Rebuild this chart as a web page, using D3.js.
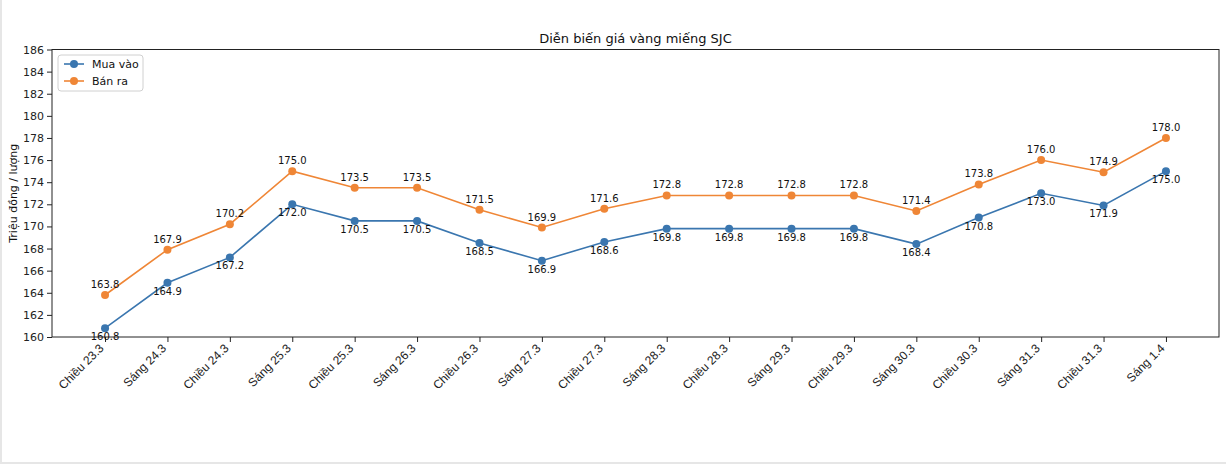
<!DOCTYPE html>
<html>
<head>
<meta charset="utf-8">
<script src="https://cdn.jsdelivr.net/npm/d3@7"></script>
<style>
  body { margin: 0; background: #fff; }
  svg { font-family: "DejaVu Sans", sans-serif; }
  .frame { position: absolute; left: 0; top: 0; width: 1224px; height: 462px; border-left: 2px solid #e6e6e6; border-bottom: 2px solid #e6e6e6; pointer-events: none; }
</style>
</head>
<body>
<div class="frame"></div>
<svg width="1226" height="464"></svg>
<script>
var labels = ["Chiều 23.3", "Sáng 24.3", "Chiều 24.3", "Sáng 25.3", "Chiều 25.3", "Sáng 26.3",
  "Chiều 26.3", "Sáng 27.3", "Chiều 27.3", "Sáng 28.3", "Chiều 28.3", "Sáng 29.3",
  "Chiều 29.3", "Sáng 30.3", "Chiều 30.3", "Sáng 31.3", "Chiều 31.3", "Sáng 1.4"];
var muaVao = [160.8, 164.9, 167.2, 172.0, 170.5, 170.5, 168.5, 166.9, 168.6, 169.8, 169.8, 169.8, 169.8, 168.4, 170.8, 173.0, 171.9, 175.0];
var banRa = [163.8, 167.9, 170.2, 175.0, 173.5, 173.5, 171.5, 169.9, 171.6, 172.8, 172.8, 172.8, 172.8, 171.4, 173.8, 176.0, 174.9, 178.0];
var yTicks = [160, 162, 164, 166, 168, 170, 172, 174, 176, 178, 180, 182, 184, 186];

var mLeft = 52, mRight = 1219, mTop = 49.5, mBottom = 337;
var svg = d3.select("svg");

// matplotlib style 5% margins on x
var n = labels.length;
var x = d3.scaleLinear().domain([-0.05 * (n - 1), (n - 1) * 1.05]).range([mLeft, mRight]);
var y = d3.scaleLinear().domain([160, 186]).range([mBottom, mTop]);

var series = [
  {name: "Mua vào", values: muaVao, color: "#3a76af", dy: 12},
  {name: "Bán ra", values: banRa, color: "#ef8636", dy: -7}
];

// axes
var xAxis = svg.append("g").attr("transform", "translate(0," + mBottom + ")")
  .call(d3.axisBottom(x).tickValues(d3.range(n)).tickFormat("").tickSizeOuter(0).tickSize(5));
xAxis.select(".domain").remove();
xAxis.selectAll("line").attr("stroke", "#222");

xAxis.selectAll(".tick").append("text")
  .attr("fill", "#222")
  .attr("font-size", 12)
  .attr("text-anchor", "end")
  .attr("transform", "translate(-1,12) rotate(-45)")
  .text(function(d) { return labels[d]; });

var yAxis = svg.append("g").attr("transform", "translate(" + mLeft + ",0)")
  .call(d3.axisLeft(y).tickValues(yTicks).tickFormat(d3.format("d")).tickSizeOuter(0).tickSize(5));
yAxis.select(".domain").remove();
yAxis.selectAll("line").attr("stroke", "#222");
yAxis.selectAll("text").attr("font-size", 11).attr("fill", "#222").attr("font-family", "DejaVu Sans");

svg.append("rect").attr("x", mLeft).attr("y", mTop).attr("width", mRight - mLeft).attr("height", mBottom - mTop)
  .attr("fill", "none").attr("stroke", "#222").attr("stroke-width", 1);

// title + y label
svg.append("text").attr("x", (mLeft + mRight) / 2).attr("y", 43).attr("text-anchor", "middle")
  .attr("font-size", 13).attr("fill", "#111").text("Diễn biến giá vàng miếng SJC");
svg.append("text").attr("transform", "translate(17," + (mTop + mBottom) / 2 + ") rotate(-90)")
  .attr("text-anchor", "middle").attr("font-size", 11).attr("fill", "#111").text("Triệu đồng / lượng");

var line = d3.line().x(function(d, i) { return x(i); }).y(function(d) { return y(d); });

series.forEach(function(s) {
  var g = svg.append("g");
  g.append("path").datum(s.values).attr("d", line)
    .attr("fill", "none").attr("stroke", s.color).attr("stroke-width", 1.6);
  g.selectAll("circle").data(s.values).enter().append("circle")
    .attr("cx", function(d, i) { return x(i); }).attr("cy", function(d) { return y(d); })
    .attr("r", 4).attr("fill", s.color);
  g.selectAll("text").data(s.values).enter().append("text")
    .attr("x", function(d, i) { return x(i); }).attr("y", function(d) { return y(d) + s.dy; })
    .attr("text-anchor", "middle").attr("font-size", 10).attr("fill", "#111")
    .text(function(d) { return d.toFixed(1); });
});

// legend
var lg = svg.append("g").attr("transform", "translate(58,55)");
lg.append("rect").attr("width", 85).attr("height", 36).attr("rx", 3)
  .attr("fill", "#fff").attr("fill-opacity", 0.8).attr("stroke", "#d0d0d0");
series.forEach(function(s, i) {
  var yy = 9 + i * 17;
  lg.append("line").attr("x1", 6).attr("x2", 26).attr("y1", yy).attr("y2", yy)
    .attr("stroke", s.color).attr("stroke-width", 1.6);
  lg.append("circle").attr("cx", 16).attr("cy", yy).attr("r", 4).attr("fill", s.color);
  lg.append("text").attr("x", 34).attr("y", yy + 4).attr("font-size", 11).attr("fill", "#111").text(s.name);
});
</script>
</body>
</html>
